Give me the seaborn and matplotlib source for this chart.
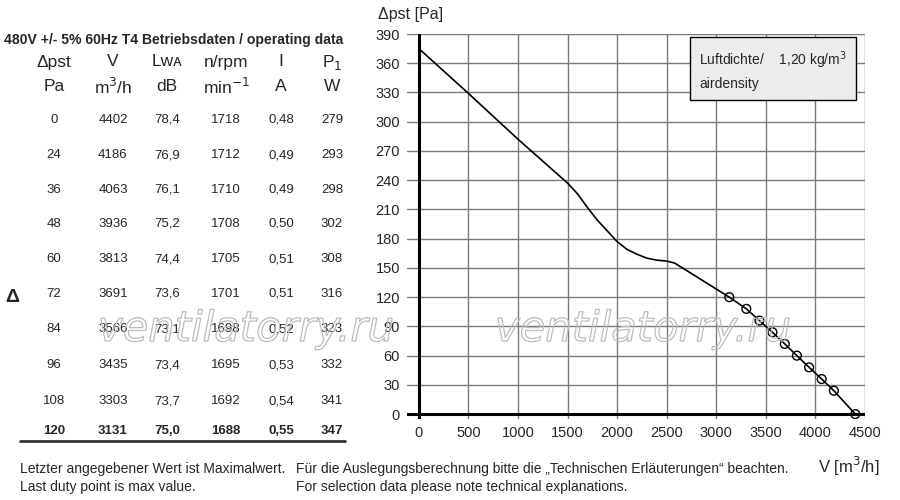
import numpy as np
import seaborn as sns
import matplotlib
matplotlib.use("Agg")
import matplotlib.pyplot as plt
import matplotlib.patheffects as pe

# operating data table
dp = [0, 24, 36, 48, 60, 72, 84, 96, 108, 120]
flow = [4402, 4186, 4063, 3936, 3813, 3691, 3566, 3435, 3303, 3131]
lwa = ["78,4", "76,9", "76,1", "75,2", "74,4", "73,6", "73,1", "73,4", "73,7", "75,0"]
rpm = [1718, 1712, 1710, 1708, 1705, 1701, 1698, 1695, 1692, 1688]
current = ["0,48", "0,49", "0,49", "0,50", "0,51", "0,51", "0,52", "0,53", "0,54", "0,55"]
power = [279, 293, 298, 302, 308, 316, 323, 332, 341, 347]

# fan curve (upper part), then the duty points
curve_v = [0, 500, 1000, 1400, 1500, 1600, 1700, 1800, 1900, 2000,
           2100, 2200, 2300, 2400, 2500, 2580]
curve_p = [375, 329, 282, 246, 237, 226, 212, 199, 188, 177,
           169, 164, 160, 158, 157, 155]

xticks = list(range(0, 4501, 500))
yticks = list(range(0, 391, 30))

sns.set_style("white")
plt.rcParams["font.family"] = ["Liberation Sans", "DejaVu Sans"]

fig = plt.figure(figsize=(9, 5), dpi=100)


def px(x, y):
    return x / 900, 1 - y / 500


ax = fig.add_axes([407 / 900, 1 - 419 / 500, (865 - 407) / 900, (419 - 34) / 500])

line_v = curve_v + flow[::-1]
line_p = curve_p + dp[::-1]
sns.lineplot(x=line_v, y=line_p, ax=ax, color="black", lw=1.2, sort=False, zorder=4)
sns.scatterplot(x=flow, y=dp, ax=ax, s=40, facecolor="none", edgecolor="black",
                linewidth=1.0, zorder=5)

ax.set_xlim(-120, 4500)
ax.set_ylim(-5, 390)
ax.set_xticks(xticks)
ax.set_yticks(yticks)
ax.grid(True, color="#7a7a7a", lw=1.0)
ax.axhline(0, color="black", lw=2.2, zorder=3)
ax.axvline(0, color="black", lw=2.2, zorder=3)
for s in ax.spines.values():
    s.set_visible(False)
ax.tick_params(length=0, labelsize=10.5, pad=5)
ax.set_xlabel("")
ax.set_ylabel("")

# air density box
ax.text(2830, 353, "Luftdichte/    1,20 kg/m$^3$\nairdensity", fontsize=10,
        va="center", ha="left", linespacing=1.5,
        bbox=dict(boxstyle="square,pad=0.65", fc="#ececec", ec="black", lw=1))

fig.text(*px(378, 14), "Δpst [Pa]", fontsize=11.5, va="center", ha="left")
fig.text(*px(818, 466), "V [m$^3$/h]", fontsize=12, va="center", ha="left")

# table
fig.text(*px(4, 40), "480V +/- 5% 60Hz T4 Betriebsdaten / operating data",
         fontsize=10.1, fontweight="bold", va="center", ha="left")
cols = [54, 113, 167, 226, 281, 332]
heads = ["Δpst", "V", "Lᴡᴀ", "n/rpm", "I", "P$_1$"]
units = ["Pa", "m$^3$/h", "dB", "min$^{-1}$", "A", "W"]
for cx, h, u in zip(cols, heads, units):
    fig.text(*px(cx, 62), h, fontsize=12.5, va="center", ha="center")
    fig.text(*px(cx, 87), u, fontsize=12.5, va="center", ha="center")

row_y = [120, 155, 190, 224, 259, 294, 329, 365, 401, 431]
for i, ry in enumerate(row_y):
    vals = [dp[i], flow[i], lwa[i], rpm[i], current[i], power[i]]
    bold = i == len(row_y) - 1
    for cx, v in zip(cols, vals):
        fig.text(*px(cx, ry), str(v), fontsize=9.5, va="center", ha="center",
                 fontweight="bold" if bold else "normal")

fig.add_artist(plt.Line2D([20 / 900, 345 / 900], [1 - 441 / 500] * 2,
                          color="#333333", lw=2, transform=fig.transFigure))
fig.text(*px(12, 297), "Δ", fontsize=14, fontweight="bold", va="center", ha="center")

fig.text(*px(20, 469), "Letzter angegebener Wert ist Maximalwert.", fontsize=10,
         va="center", ha="left")
fig.text(*px(20, 487), "Last duty point is max value.", fontsize=10,
         va="center", ha="left")
fig.text(*px(296, 469), "Für die Auslegungsberechnung bitte die „Technischen Erläuterungen“ beachten.",
         fontsize=10, va="center", ha="left")
fig.text(*px(296, 487), "For selection data please note technical explanations.",
         fontsize=10, va="center", ha="left")

# hollow watermark
for cx in [246, 643]:
    fig.text(*px(cx, 329), "ventilatorry.ru", fontsize=30, style="italic",
             family="DejaVu Sans", color="none", va="center", ha="center", zorder=6,
             path_effects=[pe.Stroke(linewidth=0.9, foreground="#bdbdbd")])

fig.savefig("out.png", dpi=100)
